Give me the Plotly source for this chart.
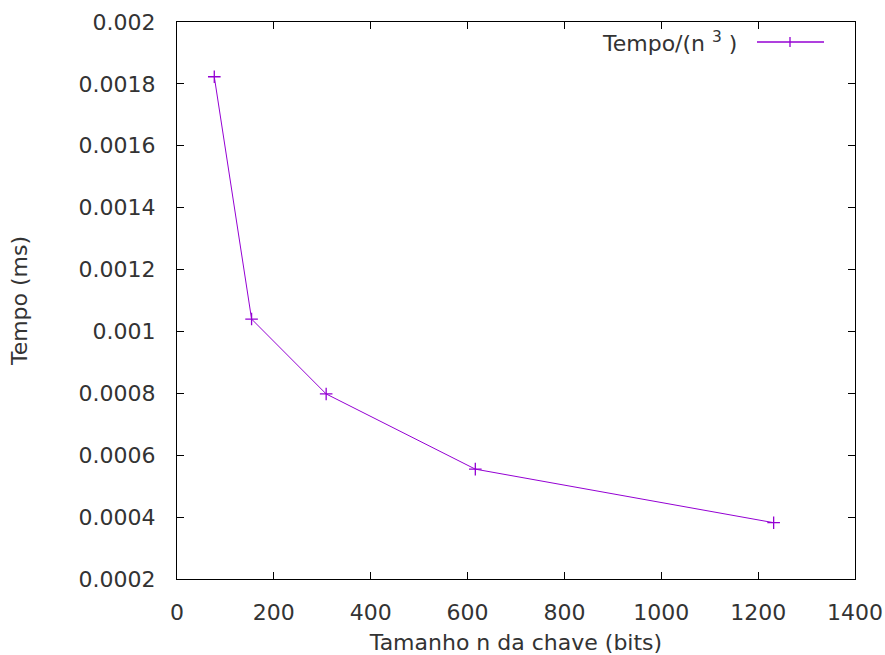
import plotly.graph_objects as go

# Data
key_bits = [77, 154, 308, 616, 1232]
tempo_norm = [0.001823, 0.00104, 0.000798, 0.000555, 0.000382]

x_ticks = [0, 200, 400, 600, 800, 1000, 1200, 1400]
y_ticks = [0.0002, 0.0004, 0.0006, 0.0008, 0.001, 0.0012, 0.0014, 0.0016, 0.0018, 0.002]
y_tick_text = ["0.0002", "0.0004", "0.0006", "0.0008", "0.001", "0.0012", "0.0014", "0.0016", "0.0018", "0.002"]

series_name = "Tempo/(n <sup>3</sup> )"
color = "#9400D3"
font_family = "DejaVu Sans"
text_color = "#333333"
fs = 22

fig = go.Figure()
fig.add_trace(go.Scatter(
    x=key_bits, y=tempo_norm, mode="lines+markers", name=series_name,
    line=dict(color=color, width=1),
    marker=dict(symbol="cross-thin", size=9, line=dict(color=color, width=1.3)),
    showlegend=False,
))

axis_common = dict(
    showgrid=False, zeroline=False, showline=True, linecolor="black", linewidth=1,
    mirror="ticks", ticks="inside", ticklen=7, tickcolor="black", tickwidth=1,
    automargin=False,
    tickfont=dict(family=font_family, size=fs, color=text_color),
)

fig.update_layout(
    width=885, height=655,
    margin=dict(l=177, r=30, t=22, b=76),
    paper_bgcolor="white", plot_bgcolor="white",
    font=dict(family=font_family, size=fs, color=text_color),
    xaxis=dict(range=[0, 1400], tickvals=x_ticks, ticklabelstandoff=14,
               title=dict(text="Tamanho n da chave (bits)", standoff=10,
                          font=dict(family=font_family, size=fs, color=text_color)),
               **axis_common),
    yaxis=dict(range=[0.0002, 0.002], tickvals=y_ticks, ticktext=y_tick_text,
               ticklabelstandoff=16,
               title=dict(text="Tempo (ms)", standoff=44,
                          font=dict(family=font_family, size=fs, color=text_color)),
               **axis_common),
)

# gnuplot-style key: text then sample line
fig.add_annotation(xref="paper", yref="paper", x=(739 - 177) / 678, y=1 - (42 - 22) / 557,
                   xanchor="right", yanchor="middle", showarrow=False,
                   text=series_name, font=dict(family=font_family, size=fs, color=text_color))
fig.add_shape(type="line", xref="paper", yref="paper",
              x0=(757 - 177) / 678, x1=(824 - 177) / 678,
              y0=1 - (42 - 22) / 557, y1=1 - (42 - 22) / 557,
              line=dict(color=color, width=1.3))
fig.add_shape(type="line", xref="paper", yref="paper",
              x0=(790 - 177) / 678, x1=(790 - 177) / 678,
              y0=1 - (37 - 22) / 557, y1=1 - (47 - 22) / 557,
              line=dict(color=color, width=1.3))

fig.write_html("out.html")
